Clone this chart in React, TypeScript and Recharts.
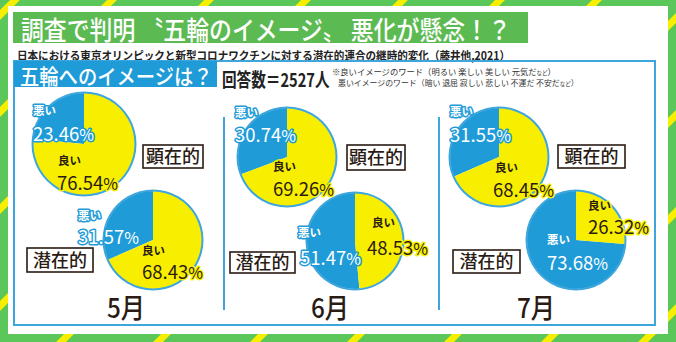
import { PieChart, Pie, Cell } from "recharts";

const months = ["5月", "6月", "7月"];
const explicitBad = [23.46, 30.74, 31.55];
const explicitGood = [76.54, 69.26, 68.45];
const implicitBad = [31.57, 51.47, 73.68];
const implicitGood = [68.43, 48.53, 26.32];
const sliceNames = ["悪い", "良い"];
const kindLabels = ["顕在的", "潜在的"];
const respondents = 2527;

const BLUE = "#1f9bd8";
const LINE_BLUE = "#3ea6dc";
const YELLOW = "#f8ef00";
const GREEN = "#5bc65a";
const TITLE_GREEN = "#5cba52";
const INK = "#2a1b14";
const FONT = "'Noto Sans CJK JP', 'Noto Sans', sans-serif";

// where each pie sits: [cx, cy, r], label spots [x, baseline] for name and value
const LAYOUT = [
  { c: [84, 144, 51], bad: [33, 115, 33, 141], good: [58, 165, 57, 190], box: [143, 145, 60, 23] },
  { c: [153, 240, 49], bad: [78, 220, 78, 244], good: [142, 255, 142, 279], box: [27, 248, 66, 24] },
  { c: [287, 157, 49], bad: [235, 117, 235, 142], good: [273, 171, 273, 196], box: [347, 145, 58, 25] },
  { c: [355, 241, 48], bad: [298, 237, 300, 265], good: [372, 227, 367, 255], box: [230, 252, 65, 21] },
  { c: [499, 157, 49], bad: [450, 116, 450, 142], good: [495, 172, 493, 197], box: [558, 145, 67, 23] },
  { c: [576, 240, 49], bad: [547, 244, 547, 270], good: [588, 210, 588, 234], box: [453, 250, 67, 23] },
];
const MONTH_X = [126, 330, 536];

function pieData(i: number) {
  const m = Math.floor(i / 2);
  const implicit = i % 2 === 1;
  return [
    { name: sliceNames[0], value: implicit ? implicitBad[m] : explicitBad[m] },
    { name: sliceNames[1], value: implicit ? implicitGood[m] : explicitGood[m] },
  ];
}

// text squeezed horizontally, like the condensed gothic of the original
function CText({ x, y, sx = 1, children, ...rest }: any) {
  return (
    <text transform={`translate(${x},${y}) scale(${sx},1)`} fontFamily={FONT} {...rest}>
      {children}
    </text>
  );
}

// two-line slice label: name over percentage
function SliceLabel({ spot, name, value, bad }: { spot: number[]; name: string; value: number; bad: boolean }) {
  return (
    <text
      fill={bad ? "#ffffff" : INK}
      stroke={bad ? BLUE : YELLOW}
      strokeWidth={3}
      paintOrder="stroke"
      strokeLinejoin="round"
      fontFamily={FONT}
    >
      <tspan x={spot[0]} y={spot[1]} fontSize={11.5} fontWeight={700}>
        {name}
      </tspan>
      <tspan x={spot[2]} y={spot[3]} fontSize={18.5}>
        {value.toFixed(2)}
      </tspan>
      <tspan fontSize={16}>%</tspan>
    </text>
  );
}

export default function App() {
  const stripes = [];
  for (let k = -1; k < 12; k++) {
    const x0 = 15 + 97 * k;
    stripes.push(
      <line key={k} x1={x0 + 10} y1={-10} x2={x0 - 352} y2={352} stroke={YELLOW} strokeWidth={7} />
    );
  }

  return (
    <div style={{ position: "absolute", left: 0, top: 0, width: 676, height: 342, overflow: "hidden" }}>
      <svg width={676} height={342} style={{ position: "absolute", left: 0, top: 0 }}>
        <rect x={0} y={0} width={676} height={342} fill={GREEN} />
        {stripes}
        <rect x={8} y={6} width={660} height={328} fill="#ffffff" />
        <rect x={13} y={12} width={515} height={31} fill={TITLE_GREEN} />
        <CText x={21} y={39.5} sx={0.88} fontSize={26} fontWeight={500} fill="#ffffff">
          調査で判明 〝五輪のイメージ〟 悪化が懸念！？
        </CText>
        <CText x={17} y={59.5} sx={0.92} fontSize={11.5} fontWeight={700} fill="#222">
          日本における東京オリンピックと新型コロナワクチンに対する潜在的連合の継時的変化（藤井他,2021）
        </CText>
        <rect x={14} y={61} width={641} height={264} fill="none" stroke={LINE_BLUE} strokeWidth={2} />
        <rect x={14} y={61} width={203} height={26} fill={BLUE} />
        <CText x={20} y={83.5} sx={0.92} fontSize={21} fontWeight={500} fill="#ffffff">
          五輪へのイメージは？
        </CText>
        <CText x={222} y={87} sx={0.77} fontSize={19} fontWeight={700} fill="#222">
          回答数＝{respondents}人
        </CText>
        <text x={332} y={75} fontSize={8.3} fill="#333" fontFamily={FONT}>
          ※良いイメージのワード（明るい 楽しい 美しい 元気だ<tspan fontSize={5.5}>など</tspan>）
        </text>
        <text x={338} y={86} fontSize={7.9} fill="#333" fontFamily={FONT}>
          悪いイメージのワード（暗い 退屈 寂しい 悲しい 不運だ 不安だ<tspan fontSize={5.5}>など</tspan>）
        </text>
        <line x1={224} y1={117} x2={224} y2={310} stroke={LINE_BLUE} strokeWidth={2} />
        <line x1={439} y1={117} x2={439} y2={310} stroke={LINE_BLUE} strokeWidth={2} />
        {months.map((m, i) => (
          <CText key={m} x={MONTH_X[i]} y={318} sx={0.9} fontSize={27} fontWeight={500} fill={INK} textAnchor="middle">
            {m}
          </CText>
        ))}
        {LAYOUT.map((l, i) => (
          <g key={`box-${i}`}>
            <rect x={l.box[0]} y={l.box[1]} width={l.box[2]} height={l.box[3]} fill="#fff" stroke={INK} strokeWidth={1.6} />
            <text x={l.box[0] + l.box[2] / 2} y={l.box[1] + l.box[3] / 2 + 6.5} fontSize={18} fontWeight={500} fill={INK} fontFamily={FONT} textAnchor="middle">
              {kindLabels[i % 2]}
            </text>
          </g>
        ))}
      </svg>

      <PieChart width={676} height={342} margin={{ top: 0, right: 0, bottom: 0, left: 0 }} style={{ position: "absolute", left: 0, top: 0 }}>
        {LAYOUT.map((l, i) => (
          <Pie
            key={`pie-${i}`}
            data={pieData(i)}
            dataKey="value"
            nameKey="name"
            cx={l.c[0]}
            cy={l.c[1]}
            outerRadius={l.c[2]}
            startAngle={90}
            endAngle={450}
            stroke="none"
            isAnimationActive={false}
          >
            <Cell fill={BLUE} />
            <Cell fill={YELLOW} />
          </Pie>
        ))}
        {LAYOUT.map((l, i) => (
          <Pie
            key={`ring-${i}`}
            data={[{ name: "ring", value: 1 }]}
            dataKey="value"
            cx={l.c[0]}
            cy={l.c[1]}
            innerRadius={l.c[2] - 0.5}
            outerRadius={l.c[2] + 1.5}
            fill={LINE_BLUE}
            stroke="none"
            isAnimationActive={false}
          />
        ))}
      </PieChart>

      <svg width={676} height={342} style={{ position: "absolute", left: 0, top: 0, pointerEvents: "none" }}>
        {LAYOUT.map((l, i) => {
          const d = pieData(i);
          return (
            <g key={`lab-${i}`}>
              <SliceLabel spot={l.bad} name={d[0].name} value={d[0].value} bad />
              <SliceLabel spot={l.good} name={d[1].name} value={d[1].value} bad={false} />
            </g>
          );
        })}
      </svg>
    </div>
  );
}
